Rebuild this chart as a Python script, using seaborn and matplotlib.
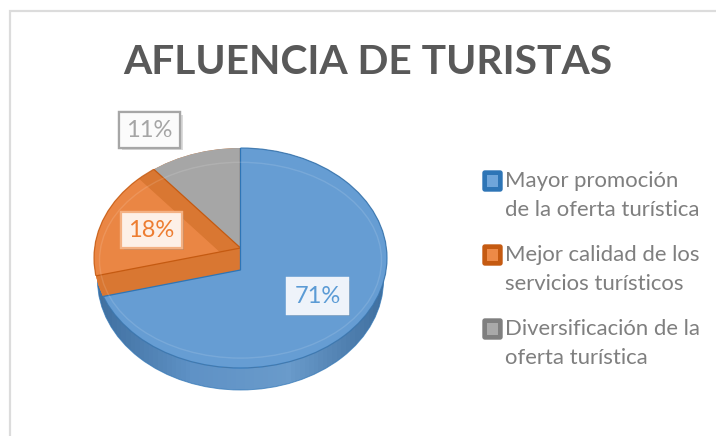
import numpy as np
import matplotlib
matplotlib.use('Agg')
import matplotlib.pyplot as plt
import matplotlib.patheffects as pe
import seaborn as sns
from matplotlib.colors import LinearSegmentedColormap
from matplotlib.patches import Ellipse, FancyBboxPatch, Rectangle

title = 'AFLUENCIA DE TURISTAS'
categories = ['Mayor promoción\nde la oferta turística',
              'Mejor calidad de los\nservicios turísticos',
              'Diversificación de la\noferta turística']
values = [71, 18, 11]

blue, orange, gray = '#669dd3', '#ea8644', '#a6a6a6'
dark_blue, dark_orange, dark_gray = '#2e75b6', '#c55a11', '#7f7f7f'
wall_orange = '#d97732'

sns.set_theme(style='white')
plt.rcParams['font.family'] = ['Lato', 'DejaVu Sans']

fig = plt.figure(figsize=(7.16, 4.36), dpi=100)
bg = fig.add_axes([0, 0, 1, 1])
bg.set_xlim(0, 716)
bg.set_ylim(436, 0)
bg.axis('off')
bg.add_patch(Rectangle((9.5, 11.5), 720, 440, fc='white', ec='#dcdcdc', lw=1.6))

# pie axes: one unit is the radius of the top ellipse
cx, cy, rx, ry = 240.5, 258, 146.5, 110
ax = fig.add_axes([0, 0, 1, 1])
ax.patch.set_alpha(0)


def layer(apex_y, colors, edge):
    wedges, _ = ax.pie(values, colors=colors, startangle=90, counterclock=False,
                       center=(0, (cy - apex_y) / ry), radius=1.6,
                       wedgeprops={'linewidth': 0.9, 'edgecolor': edge})
    for w, c in zip(wedges, colors):
        if c == 'none':
            w.set_visible(False)
        # pie turns clipping off on its wedges
        w.set_clip_on(True)
        w.set_clip_path(top)
    return wedges


# side of the cake
side = Ellipse((0, -0.2), 143 / rx * 2, 2, fc='none', ec='none')
ax.add_patch(side)
side_cmap = LinearSegmentedColormap.from_list('side', ['#3f6f9f', '#5f92c6', '#6a9bcb', '#3f6f9f'])
img = ax.imshow(np.linspace(0, 1, 64).reshape(1, -1), cmap=side_cmap, aspect='auto',
                extent=(-1, 1, -1.2, 0.2), zorder=0.5)
img.set_clip_path(side)

top = Ellipse((0, 0), 2, 2, fc=wall_orange, ec='none', zorder=0.8)
ax.add_patch(top)

# the slices are stacked so the cut walls of the orange slice stay visible
layer(270, ['none', orange, 'none'], wall_orange)
upper = layer(248, [wall_orange, 'none', gray], '#c55a11')
lower = layer(270, [blue, 'none', 'none'], dark_blue)

# inner bevel and rim, the rim only on the blue and orange slices
ax.add_patch(Ellipse((0, -0.02), 141 / rx * 2, 1.78, fc='none', ec='white', alpha=0.12, lw=1, zorder=3))
rim = Ellipse((0, 0), 2, 2, fc='none', ec=dark_blue, lw=0.9, zorder=3, alpha=0.8)
ax.add_patch(rim)
rim.set_clip_path(lower[0])
rim2 = Ellipse((0, 0), 2, 2, fc='none', ec=dark_orange, lw=0.9, zorder=3, alpha=0.8)
ax.add_patch(rim2)
rim2.set_clip_path(upper[1])
ax.add_patch(Ellipse((0, -0.2), 143 / rx * 2, 2, fc='none', ec=dark_blue, lw=0.7, zorder=0.6, alpha=0.7))

ax.set_aspect('auto')
ax.set_xlim((0 - cx) / rx, (716 - cx) / rx)
ax.set_ylim((cy - 436) / ry, cy / ry)
ax.axis('off')

# texts on top of the pie
fg = fig.add_axes([0, 0, 1, 1])
fg.set_xlim(0, 716)
fg.set_ylim(436, 0)
fg.axis('off')
fg.patch.set_alpha(0)

fg.text(368, 63, title, ha='center', va='center', fontsize=29.3, fontweight='bold', color='#595959')

label_pos = [(317.5, 296), (151.5, 230), (149.5, 130)]
label_face = ['#eef3fa', '#fdf0e7', '#fbfbfb']
label_edge = ['#eef3fa', '#f4b183', '#a6a6a6']
label_text = ['#5b9bd5', '#ed7d31', '#a5a5a5']
for v, (x, y), fc, ec, tc in zip(values, label_pos, label_face, label_edge, label_text):
    t = fg.text(x, y, f'{v}%', ha='center', va='center', fontsize=17, color=tc,
                bbox={'boxstyle': 'square,pad=0.3', 'fc': fc, 'ec': ec, 'lw': 1.6})
    t.get_bbox_patch().set_path_effects([pe.withSimplePatchShadow(offset=(2, -2), shadow_rgbFace='#888888', alpha=0.3),
                                         pe.Normal()])

legend_y = [181, 255, 329]
legend_dark = [dark_blue, dark_orange, dark_gray]
legend_light = ['#6fa5da', '#ed8a47', '#a9a9a9']
for name, y, d, l in zip(categories, legend_y, legend_dark, legend_light):
    fg.add_patch(FancyBboxPatch((483, y - 10), 19, 20, boxstyle='round,pad=0,rounding_size=2', fc=d, ec=d, lw=1))
    fg.add_patch(Rectangle((487, y - 6), 11, 12, fc=l, ec='none'))
    first, second = name.split('\n')
    fg.text(505, y, first, va='center', ha='left', fontsize=15.9, color='#7f7f7f')
    fg.text(505, y + 29, second, va='center', ha='left', fontsize=15.9, color='#7f7f7f')

fig.savefig('out.png', dpi=100)
